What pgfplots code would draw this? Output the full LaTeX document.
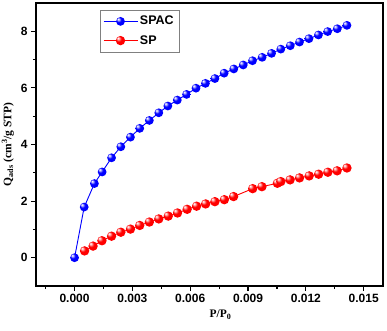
\documentclass[border=0pt]{standalone}
\usepackage{fontspec}
\setmainfont{Liberation Serif}
\setsansfont{Liberation Sans}
\usepackage{pgfplots}
\pgfplotsset{compat=1.18}
\usetikzlibrary{calc,plotmarks}

% shiny balls: bright colour, small white highlight, slightly darker rim
\pgfdeclareradialshading{ballblue}{\pgfpoint{-14bp}{14bp}}{%
  rgb(0bp)=(1,1,1); rgb(5bp)=(0.75,0.75,1); rgb(14bp)=(0,0,1);
  rgb(40bp)=(0,0,1); rgb(50bp)=(0,0,0.7)}
\pgfdeclareradialshading{ballred}{\pgfpoint{-14bp}{14bp}}{%
  rgb(0bp)=(1,1,1); rgb(5bp)=(1,0.75,0.75); rgb(14bp)=(1,0,0);
  rgb(40bp)=(1,0,0); rgb(50bp)=(0.75,0,0)}
\pgfdeclareplotmark{blueball}{%
  \pgfpathcircle{\pgfpointorigin}{\pgfplotmarksize}%
  \pgfshadepath{ballblue}{0}\pgfusepath{}}
\pgfdeclareplotmark{redball}{%
  \pgfpathcircle{\pgfpointorigin}{\pgfplotmarksize}%
  \pgfshadepath{ballred}{0}\pgfusepath{}}

\begin{document}
\begin{tikzpicture}
\begin{axis}[
  scale only axis,
  width=347pt, height=283pt,
  xmin=-0.002, xmax=0.016,
  ymin=-1, ymax=9,
  xtick={0,0.003,0.006,0.009,0.012,0.015},
  minor xtick={-0.0015,0.0015,0.0045,0.0075,0.0105,0.0135},
  ytick={0,2,4,6,8},
  minor ytick={1,3,5,7},
  scaled x ticks=false,
  xticklabel style={/pgf/number format/.cd, fixed, fixed zerofill, precision=3},
  /pgf/number format/assume math mode=true,
  tick label style={font=\sffamily\bfseries\fontsize{12}{12}\selectfont},
  xtick pos=bottom, ytick pos=left,
  tick align=outside,
  major tick length=5pt, minor tick length=3pt,
  every tick/.style={black, line width=1.2pt},
  axis line style={line width=1.6pt},
  xlabel={P/P\textsubscript{0}},
  ylabel={Q\textsubscript{ads} (cm\textsuperscript{3}/g STP)},
  label style={font=\rmfamily\bfseries\fontsize{11.5}{12}\selectfont},
  xlabel style={xshift=11pt},
  legend style={at={(0.184,0.975)}, anchor=north west, draw=gray,
    font=\sffamily\bfseries\fontsize{12.5}{12.5}\selectfont,
    inner xsep=3pt, inner ysep=4pt, row sep=5pt},
  legend cell align=left,
  legend image code/.code={\draw[mark repeat=2,mark phase=2,#1]
    plot coordinates {(0pt,0pt) (17pt,0pt) (34pt,0pt)};},
]
\coordinate (ll) at (rel axis cs:0,0);
\coordinate (ur) at (rel axis cs:1,1);
\addplot[blue, line width=0.9pt, mark=blueball, mark size=4.4pt] coordinates {
 (0,0)(0.0005,1.79)(0.00103,2.62)(0.00143,3.03)(0.00192,3.53)(0.0024,3.92)
 (0.0029,4.26)(0.00338,4.57)(0.00388,4.85)(0.00437,5.12)(0.00484,5.36)
 (0.00533,5.57)(0.00581,5.77)(0.0063,5.99)(0.00679,6.16)(0.00728,6.33)
 (0.00776,6.52)(0.00826,6.67)(0.00875,6.81)(0.00923,6.96)(0.00973,7.08)
 (0.01022,7.22)(0.0107,7.37)(0.01119,7.49)(0.01167,7.62)(0.01216,7.74)
 (0.01265,7.87)(0.01313,7.99)(0.01363,8.09)(0.01413,8.21)
};
\addlegendentry{SPAC}
\addplot[red, line width=0.9pt, mark=redball, mark size=4.7pt] coordinates {
 (0.00052,0.24)(0.00096,0.41)(0.00142,0.60)(0.00192,0.76)(0.0024,0.90)
 (0.0029,1.01)(0.00338,1.14)(0.00388,1.26)(0.00437,1.37)(0.00486,1.47)
 (0.00534,1.58)(0.00584,1.71)(0.00633,1.82)(0.0068,1.90)(0.00728,1.98)
 (0.00777,2.05)(0.00825,2.16)(0.00924,2.44)(0.00972,2.51)(0.01052,2.63)
 (0.0107,2.69)(0.01118,2.75)(0.01167,2.82)(0.01217,2.89)(0.01266,2.95)
 (0.01314,3.02)(0.01362,3.07)(0.01413,3.17)
};
\addlegendentry{SP}
\end{axis}
\pgfresetboundingbox
\path ($(ll)+(-36pt,-44pt)$) rectangle ($(ur)+(4pt,3pt)$);
\end{tikzpicture}
\end{document}
